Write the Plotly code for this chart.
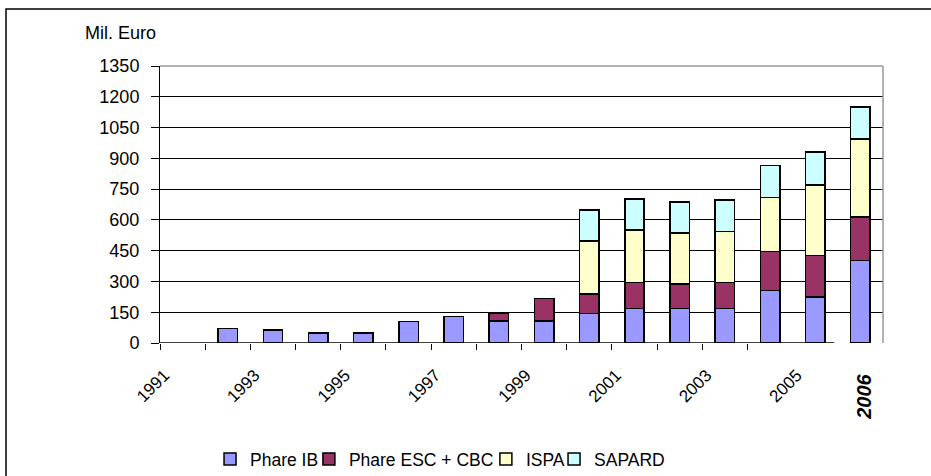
import plotly.graph_objects as go

years = list(range(1991, 2007))
phare_ib = [None, 71, 63, 48, 48, 105, 128, 108, 108, 144, 167, 167, 167, 255, 224, 401]
phare_esc = [None, None, None, None, None, None, None, 37, 108, 96, 128, 121, 128, 192, 202, 213]
ispa = [None] * 9 + [257, 256, 247, 248, 263, 343, 381]
sapard = [None] * 9 + [152, 152, 151, 153, 155, 161, 155]

series_names = ["Phare IB", "Phare ESC + CBC", "ISPA", "SAPARD"]
series_colors = ["#9999FF", "#993366", "#FFFFCC", "#CCFFFF"]
tick_label_years = [1991, 1993, 1995, 1997, 1999, 2001, 2003, 2005]
highlight_year = 2006
y_title = "Mil. Euro"
y_ticks = list(range(0, 1351, 150))

font_family = "Liberation Sans, Arial, sans-serif"

legend_ids = ["legend", "legend2", "legend3", "legend4"]
legend_x = [0.2256, 0.3318, 0.5219, 0.5951]

fig = go.Figure()
for name, vals, col, lid in zip(series_names, [phare_ib, phare_esc, ispa, sapard], series_colors, legend_ids):
    fig.add_trace(go.Bar(
        x=years, y=vals, name=name, width=0.43, legend=lid,
        marker=dict(color=col, line=dict(color="black", width=1.5)),
    ))

boundaries = [y - 0.5 for y in years[:-1]]

legend_layout = {}
for lid, lx in zip(legend_ids, legend_x):
    legend_layout[lid] = dict(
        orientation="h", xref="container", yref="container",
        x=lx, xanchor="left", y=0.0357, yanchor="middle",
        font=dict(size=17.5, family=font_family), bgcolor="rgba(0,0,0,0)",
    )

fig.update_layout(
    width=931, height=476,
    barmode="stack",
    plot_bgcolor="white", paper_bgcolor="white",
    margin=dict(l=160, r=48, t=66, b=133),
    font=dict(family=font_family, color="black"),
    showlegend=True,
    xaxis=dict(
        type="linear", range=[years[0] - 0.5, years[-1] + 0.5], automargin=False,
        showline=False, showgrid=False, zeroline=False,
        tickmode="array", tickvals=[y - 0.38 for y in tick_label_years],
        ticktext=[str(y) for y in tick_label_years],
        tickangle=-45, ticks="", tickfont=dict(size=17),
        ticklabelstandoff=18, ticklabelshift=-1,
        minor=dict(tickmode="array", tickvals=boundaries[:-1], ticks="outside",
                   ticklen=6, tickcolor="black", tickwidth=1, showgrid=False),
    ),
    yaxis=dict(
        range=[0, 1350], tickmode="array", tickvals=y_ticks, automargin=False,
        showline=True, linecolor="black", linewidth=1,
        showgrid=True, gridcolor="black", gridwidth=1,
        zeroline=True, zerolinecolor="rgba(0,0,0,0)",
        ticks="outside", ticklen=8, tickcolor="black",
        tickfont=dict(size=18), ticklabelstandoff=8,
    ),
    shapes=[
        dict(type="line", xref="x", yref="y", x0=years[0] - 0.5, x1=years[-2] + 0.42,
             y0=0, y1=0, line=dict(color="black", width=1.5), layer="above"),
        dict(type="line", xref="paper", yref="paper", x0=0, x1=1, y0=1, y1=1,
             line=dict(color="#999999", width=1.5), layer="above"),
        dict(type="line", xref="paper", yref="paper", x0=1, x1=1, y0=0, y1=1,
             line=dict(color="#999999", width=1.5), layer="above"),
        dict(type="rect", xref="paper", yref="paper", x0=-0.213, x1=1.2, y0=-0.7, y1=1.2058,
             line=dict(color="black", width=1.5), fillcolor="rgba(0,0,0,0)", layer="above"),
    ],
    annotations=[
        dict(text=y_title, xref="paper", yref="paper", x=-0.1065, y=1.119,
             xanchor="left", yanchor="middle", showarrow=False, font=dict(size=18)),
        dict(text="<b><i>%d</i></b>" % highlight_year, xref="x", yref="paper",
             x=highlight_year, xshift=4, y=-0.193, xanchor="center", yanchor="middle",
             textangle=-90, showarrow=False, font=dict(size=20)),
    ],
)
fig.update_layout(**legend_layout)

fig.write_html("out.html", config={"displayModeBar": False},
               post_script="document.body.style.margin='0';")
